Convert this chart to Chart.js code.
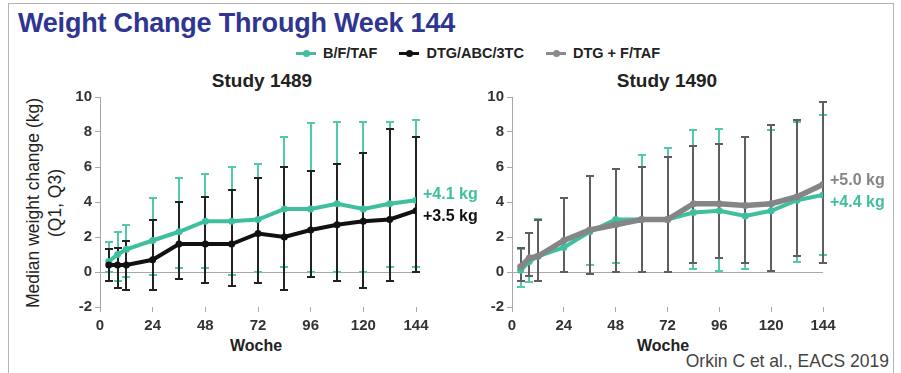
<!DOCTYPE html>
<html>
<head>
<meta charset="utf-8">
<script src="https://cdn.jsdelivr.net/npm/chart.js@4.4.1/dist/chart.umd.min.js"></script>
<style>
  html, body { margin: 0; padding: 0; background: #fff; }
  body { width: 901px; height: 373px; position: relative; overflow: hidden; font-family: "Liberation Sans", Arial, sans-serif; }
  #frame { position: absolute; left: 8px; top: 3px; width: 886px; height: 400px; border: 1px solid #b4b4b4; border-bottom: none; box-sizing: border-box; }
  #title { position: absolute; left: 18px; top: 8px; font-size: 27px; font-weight: bold; color: #2e3592; white-space: nowrap; letter-spacing: -0.2px; }
  #legend { position: absolute; left: 0; width: 956px; top: 45px; text-align: center; font-size: 14.5px; font-weight: bold; color: #222; white-space: nowrap; }
  #legend .item { display: inline-block; margin: 0 9px; }
  #legend .mk { display: inline-block; position: relative; width: 20px; height: 3px; vertical-align: middle; margin-right: 7px; top: -1px; }
  #legend .mk::after { content: ""; position: absolute; left: 7px; top: -2px; width: 7px; height: 7px; border-radius: 50%; background: inherit; }
  .sub { position: absolute; top: 70px; font-size: 19px; font-weight: bold; color: #222; white-space: nowrap; transform: translateX(-50%); }
  .xt { position: absolute; top: 337px; font-size: 16px; font-weight: bold; color: #222; transform: translateX(-50%); }
  #ytitle { position: absolute; left: 44px; top: 203px; transform: translate(-50%, -50%) rotate(-90deg); font-size: 17.5px; color: #222; text-align: center; line-height: 22px; white-space: nowrap; }
  #credit { position: absolute; right: 12px; top: 351px; font-size: 17.5px; color: #444; white-space: nowrap; }
  canvas { position: absolute; }
</style>
</head>
<body>
<div id="frame"></div>
<div id="title">Weight Change Through Week 144</div>
<div id="legend">
  <span class="item"><span class="mk" style="background:#3fbf9f"></span>B/F/TAF</span>
  <span class="item"><span class="mk" style="background:#111"></span>DTG/ABC/3TC</span>
  <span class="item"><span class="mk" style="background:#8a8a8d"></span>DTG + F/TAF</span>
</div>
<div class="sub" style="left:262px">Study 1489</div>
<div class="sub" style="left:667px">Study 1490</div>
<div id="ytitle">Median weight change (kg)<br>(Q1, Q3)</div>
<div class="xt" style="left:256px">Woche</div>
<div class="xt" style="left:663px">Woche</div>
<div id="credit">Orkin C et al., EACS 2019</div>

<canvas id="c1" width="440" height="260" style="left:40px; top:85px; width:440px; height:260px;"></canvas>
<canvas id="c2" width="440" height="260" style="left:452px; top:85px; width:440px; height:260px;"></canvas>

<script>
// ---- data ----
const weeks = [4, 8, 12, 24, 36, 48, 60, 72, 84, 96, 108, 120, 132, 144];
const xTickLabels = [0, 24, 48, 72, 96, 120, 144];
const yTickLabels = [-2, 0, 2, 4, 6, 8, 10];

// Study 1489
const bftaf1489    = [0.6, 1.0, 1.3, 1.8, 2.3, 2.9, 2.9, 3.0, 3.6, 3.6, 3.9, 3.6, 3.9, 4.1];
const bftaf1489Q1  = [0.0, -0.5, -0.3, -0.15, 0.25, 0.25, -0.15, 0.0, 0.3, 0.0, 0.0, 0.0, 0.3, 0.3];
const bftaf1489Q3  = [1.7, 2.3, 2.7, 4.2, 5.4, 5.6, 6.0, 6.2, 7.7, 8.5, 8.6, 8.6, 8.6, 8.7];
const dtgAbc1489   = [0.4, 0.4, 0.4, 0.7, 1.6, 1.6, 1.6, 2.2, 2.0, 2.4, 2.7, 2.9, 3.0, 3.5];
const dtgAbc1489Q1 = [-0.5, -0.9, -1.0, -1.0, -0.4, -0.6, -0.8, -0.6, -1.0, -0.3, -0.5, -0.9, -0.5, 0.0];
const dtgAbc1489Q3 = [1.3, 1.4, 1.8, 3.0, 4.0, 4.3, 4.7, 5.4, 6.0, 5.8, 6.2, 6.8, 8.2, 7.7];

// Study 1490
const bftaf1490    = [0.1, 0.6, 0.9, 1.4, 2.3, 3.0, 3.0, 3.0, 3.4, 3.5, 3.2, 3.5, 4.1, 4.4];
const bftaf1490Q1  = [-0.85, -0.55, -0.5, 0.0, 0.4, 0.5, 0.0, 0.0, 0.2, 0.05, 0.2, 0.05, 0.6, 0.95];
const bftaf1490Q3  = [1.3, 2.2, 3.05, 4.2, 5.5, 5.9, 6.7, 7.1, 8.1, 8.15, 7.7, 8.1, 8.6, 8.95];
const dtgFtaf1490   = [0.3, 0.8, 0.9, 1.8, 2.4, 2.7, 3.0, 3.0, 3.9, 3.9, 3.8, 3.9, 4.3, 5.0];
const dtgFtaf1490Q1 = [-0.5, -0.2, -0.5, 0.0, -0.1, 0.0, 0.0, 0.0, 0.5, 0.8, 0.5, 0.05, 0.9, 0.5];
const dtgFtaf1490Q3 = [1.4, 2.2, 3.0, 4.2, 5.5, 5.9, 6.0, 6.6, 7.2, 7.3, 7.7, 8.4, 8.7, 9.7];

// ---- styles ----
const TEAL = '#3fbf9f', TEAL_BAR = '#52c9ab';
const BLACK = '#111111', BLACK_BAR = '#222222';
const GREY = '#858588', GREY_BAR = '#5e5e60';
const FONT = '"Liberation Sans", Arial, sans-serif';

const toXY = (vals) => vals.map((v, i) => ({ x: weeks[i], y: v }));

const errorBars = {
  id: 'errorBars',
  beforeDatasetsDraw(chart) {
    const ctx = chart.ctx, xs = chart.scales.x, ys = chart.scales.y;
    const list = chart.data.datasets.filter(d => d.q1).slice().sort((a, b) => (b.order || 0) - (a.order || 0));
    for (const d of list) {
      ctx.save();
      ctx.strokeStyle = d.errColor;
      ctx.lineWidth = 2;
      d.data.forEach((p, k) => {
        const x = Math.round(xs.getPixelForValue(p.x));
        const yl = Math.round(ys.getPixelForValue(d.q1[k]));
        const yh = Math.round(ys.getPixelForValue(d.q3[k]));
        ctx.beginPath();
        ctx.moveTo(x, yl); ctx.lineTo(x, yh);
        ctx.moveTo(x - 4, yl); ctx.lineTo(x + 4, yl);
        ctx.moveTo(x - 4, yh); ctx.lineTo(x + 4, yh);
        ctx.stroke();
      });
      ctx.restore();
    }
  }
};

const endLabels = {
  id: 'endLabels',
  afterDatasetsDraw(chart) {
    const ctx = chart.ctx;
    chart.data.datasets.forEach((d, i) => {
      const meta = chart.getDatasetMeta(i);
      const pt = meta.data[meta.data.length - 1];
      const v = d.data[d.data.length - 1].y;
      ctx.save();
      ctx.font = 'bold 16px ' + FONT;
      ctx.fillStyle = d.labelColor;
      ctx.textBaseline = 'middle';
      ctx.textAlign = 'left';
      ctx.fillText('+' + v.toFixed(1) + ' kg', pt.x + 7, pt.y + d.labelDy);
      ctx.restore();
    });
  }
};

function makeOptions(padRight) {
  return {
    responsive: false,
    animation: false,
    events: [],
    layout: { padding: { left: 0, right: padRight, top: 6, bottom: 0 } },
    plugins: { legend: { display: false }, tooltip: { enabled: false } },
    scales: {
      x: {
        type: 'linear', min: 0, max: 144,
        afterBuildTicks: (s) => { s.ticks = xTickLabels.map(v => ({ value: v })); },
        afterFit: (s) => { s.height = 38; },
        border: { display: false },
        grid: { drawOnChartArea: false, tickLength: 5, tickColor: '#a8a8a8', lineWidth: 1 },
        ticks: { font: { family: FONT, size: 15, weight: 'bold' }, color: '#333', padding: 5, maxRotation: 0 }
      },
      y: {
        min: -2, max: 10,
        afterBuildTicks: (s) => { s.ticks = yTickLabels.map(v => ({ value: v })); },
        afterFit: (s) => { s.width = 60; },
        border: { display: true, color: '#a8a8a8', width: 1 },
        grid: {
          tickLength: 5,
          tickColor: '#a8a8a8',
          color: (c) => (c.tick && c.tick.value === 0 ? '#a8a8a8' : 'rgba(0,0,0,0)'),
          lineWidth: 1
        },
        ticks: { font: { family: FONT, size: 15, weight: 'bold' }, color: '#333', padding: 3 }
      }
    }
  };
}

const lineDs = (label, vals, q1, q3, color, errColor, width, order, labelDy) => ({
  label, data: toXY(vals), q1, q3, errColor,
  borderColor: color, backgroundColor: color, borderWidth: width,
  pointRadius: 3.5, pointBackgroundColor: color, pointBorderColor: color, pointBorderWidth: 0,
  tension: 0, fill: false, order, labelColor: color, labelDy
});

new Chart(document.getElementById('c1'), {
  type: 'line',
  data: {
    datasets: [
      lineDs('B/F/TAF', bftaf1489, bftaf1489Q1, bftaf1489Q3, TEAL, TEAL_BAR, 4, 1, -6),
      lineDs('DTG/ABC/3TC', dtgAbc1489, dtgAbc1489Q1, dtgAbc1489Q3, BLACK, BLACK_BAR, 4, 0, 6)
    ]
  },
  options: makeOptions(440 - (416 - 40)),
  plugins: [errorBars, endLabels]
});

new Chart(document.getElementById('c2'), {
  type: 'line',
  data: {
    datasets: [
      lineDs('B/F/TAF', bftaf1490, bftaf1490Q1, bftaf1490Q3, TEAL, TEAL_BAR, 4, 1, 8),
      lineDs('DTG + F/TAF', dtgFtaf1490, dtgFtaf1490Q1, dtgFtaf1490Q3, GREY, GREY_BAR, 5.5, 0, -4)
    ]
  },
  options: makeOptions(440 - (823 - 452)),
  plugins: [errorBars, endLabels]
});
</script>
</body>
</html>
